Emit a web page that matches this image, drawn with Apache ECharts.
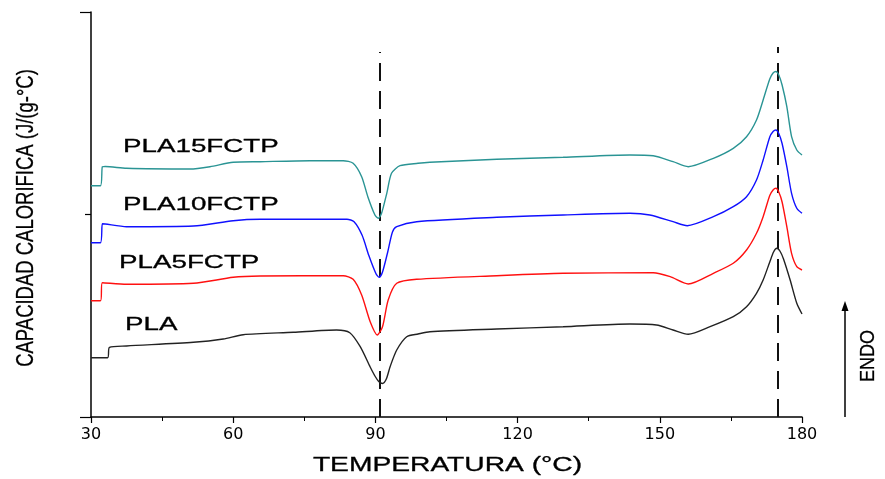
<!DOCTYPE html>
<html>
<head>
<meta charset="utf-8">
<script src="https://cdn.jsdelivr.net/npm/echarts@6/dist/echarts.min.js"></script>
<style>
html,body{margin:0;padding:0;background:#fff;}
#chart{width:885px;height:479px;}
</style>
</head>
<body>
<div id="chart"></div>
<script>
// x ticks (°C)
var xTicks = [30, 60, 90, 120, 150, 180];
// series names
var seriesNames = ['PLA15FCTP', 'PLA10FCTP', 'PLA5FCTP', 'PLA'];
// curves: [temperature °C, heat flow (arbitrary, stacked offsets)]
var pla15 = [
  [30,231.3],[32.0,231.3],[32.4,250.3],[33,250.5],[37.5,248.7],[50.9,248],[55.1,250.3],[60,254.7],
  [65.7,255.3],[76.2,256.3],[83.2,256.3],[85.3,253.7],[87.1,240.3],[88.4,220.3],[89.9,202],
  [90.6,198.7],[91.3,203.7],[92.4,223.7],[93.4,243.7],[95.2,251.3],[99,253.7],[101.5,254.7],
  [115.6,257.7],[129.6,259.7],[143.7,262],[148.6,261.3],[152.8,255.3],[156.0,250.3],[161.3,258.7],
  [165.5,268.7],[168.3,280.3],[170.4,297],[171.8,317],[173.2,338],[173.9,344],[174.5,345.5],
  [175.1,342],[175.8,332],[176.8,310.3],[177.8,280.3],[178.9,267],[180,262]
];
var pla10 = [
  [30,174.3],[32.0,174.3],[32.4,193.3],[33,193],[37.5,190.3],[51.6,191],[60,196.3],[65.7,197.7],
  [84,197.7],[85.5,195.3],[87.2,181.7],[88.6,161.7],[90.1,143.5],[90.8,139.7],[91.5,145],
  [92.6,165],[93.6,185],[94.5,190.3],[98.7,195.3],[115.6,199.7],[129.6,202],[143.7,203.7],
  [147.9,202],[152.8,195.3],[155.8,191.3],[161.3,200.3],[165.5,210.3],[168.3,220.3],[170.4,237],
  [171.8,257],[173.2,280],[173.9,285.5],[174.5,287],[175.1,283.5],[175.8,273.5],[176.8,250.3],
  [177.8,223.7],[178.9,208.7],[180,203.7]
];
var pla5 = [
  [30,116.3],[32.0,116.3],[32.4,134.3],[37.5,132.7],[51.6,133.7],[60,139.7],[65.7,141],[83.2,141.3],
  [85.3,137.7],[87.1,122],[88.9,95.3],[90.4,82],[91.5,90.3],[92.7,117],[94.5,133.7],[98.7,137.7],
  [115.6,141.3],[129.6,143.7],[148.6,144.3],[152.2,140.3],[156.0,133],[161.3,143.7],[165.5,153.7],
  [168.3,167],[170.4,183.7],[171.8,200.3],[173.2,221.5],[173.9,227],[174.5,228.7],[175.1,225],
  [175.8,215],[176.8,190.3],[177.8,163.7],[178.9,150.3],[180,147]
];
var pla = [
  [30,59.3],[33.5,59.3],[33.9,69.7],[37.5,71],[51.6,74.7],[57.9,78],[62.1,82.3],[72.7,84.7],
  [81.8,87],[84.6,84.3],[86.8,70.3],[88.9,50],[89.9,41],[90.7,35.5],[91.5,33.5],[92.3,38],[93.1,50.3],[94.5,67],
  [96.6,80.3],[99,83],[101.5,85.3],[115.6,88],[129.6,90.3],[143.7,93],[149.3,92],[152.8,87],
  [156.0,82.7],[160.6,90.3],[165.5,100.3],[168.3,110.3],[170.4,123.7],[171.8,137],[173.2,155],
  [174.0,165],[174.7,168.7],[175.4,165.5],[176.1,158],[177.5,137],[178.9,113.7],[180,103]
];
// dashed reference lines (temperature, top value)
var dashTemps = [91, 174.9];
var dashTops = [365, 370];

var colors = ['#2a9494', '#1010ff', '#ff1010', '#222222'];
var curves = [pla15, pla10, pla5, pla];

var chart = echarts.init(document.getElementById('chart'), null, {renderer: 'canvas'});

var series = curves.map(function (d, i) {
  return {
    name: seriesNames[i],
    type: 'line',
    data: d,
    showSymbol: false,
    smooth: 0.25,
    lineStyle: {color: colors[i], width: 1.4},
    itemStyle: {color: colors[i]},
    silent: true,
    z: 3
  };
});
series[3].markLine = {
  silent: true,
  symbol: ['none', 'none'],
  label: {show: false},
  lineStyle: {color: '#111', width: 2, type: [18, 10]},
  data: dashTemps.map(function (t, i) {
    return [{coord: [t, 0]}, {coord: [t, dashTops[i]]}];
  }),
  z: 2
};

var labelPos = [[123, 147], [123, 204.5], [119, 263], [125, 324.5]];
var graphics = seriesNames.map(function (n, i) {
  return {
    type: 'text', x: labelPos[i][0], y: labelPos[i][1], scaleX: 1.5, scaleY: 1,
    style: {text: n, font: '18.5px "Liberation Sans", Arial', fill: '#000', align: 'left', verticalAlign: 'middle',
            stroke: '#000', lineWidth: 0.3}
  };
});
graphics.push({
  type: 'text', x: 447.5, y: 465, scaleX: 1.41, scaleY: 1,
  style: {text: 'TEMPERATURA (°C)', font: '20px "Liberation Sans", Arial', fill: '#000', align: 'center', verticalAlign: 'middle',
          stroke: '#000', lineWidth: 0.3}
});
graphics.push({
  type: 'text', x: 26, y: 218, rotation: Math.PI / 2, scaleX: 0.77, scaleY: 1,
  style: {text: 'CAPACIDAD CALORIFICA (J/(g-°C)', font: '24px "Liberation Sans", Arial', fill: '#000', align: 'center', verticalAlign: 'middle',
          stroke: '#000', lineWidth: 0.3}
});
graphics.push({
  type: 'text', x: 868, y: 356, rotation: Math.PI / 2, scaleX: 0.86, scaleY: 1,
  style: {text: 'ENDO', font: '21px "Liberation Sans", Arial', fill: '#000', align: 'center', verticalAlign: 'middle',
          stroke: '#000', lineWidth: 0.3}
});
graphics.push({
  type: 'line', shape: {x1: 845, y1: 417, x2: 845, y2: 310},
  style: {stroke: '#000', lineWidth: 1.5}
});
graphics.push({
  type: 'polygon', shape: {points: [[845, 301], [841.5, 311], [848.5, 311]]},
  style: {fill: '#000'}
});

chart.setOption({
  animation: false,
  backgroundColor: '#fff',
  grid: {left: 91, right: 83, top: 12, bottom: 62},
  xAxis: {
    type: 'value', min: xTicks[0], max: xTicks[xTicks.length - 1], interval: 30,
    axisLine: {show: true, onZero: false, lineStyle: {color: '#000', width: 1.5}},
    axisTick: {show: true, inside: false, length: 6, lineStyle: {color: '#000', width: 1.2}},
    minorTick: {show: true, splitNumber: 2, length: 4, lineStyle: {color: '#000', width: 1}},
    splitLine: {show: false},
    axisLabel: {
      margin: 10, color: '#000', fontSize: 16, fontFamily: 'DejaVu Sans',
      formatter: function (v) { return xTicks.indexOf(v) >= 0 ? String(v) : ''; }
    }
  },
  yAxis: {
    type: 'value', min: 0, max: 405, interval: 405,
    axisLine: {show: true, onZero: false, lineStyle: {color: '#000', width: 1.5}},
    axisTick: {show: true, inside: false, length: 11, lineStyle: {color: '#000', width: 1.2}},
    minorTick: {show: true, splitNumber: 2, length: 6, lineStyle: {color: '#000', width: 1.2}},
    splitLine: {show: false},
    axisLabel: {show: false}
  },
  series: series,
  graphic: graphics
});
</script>
</body>
</html>
